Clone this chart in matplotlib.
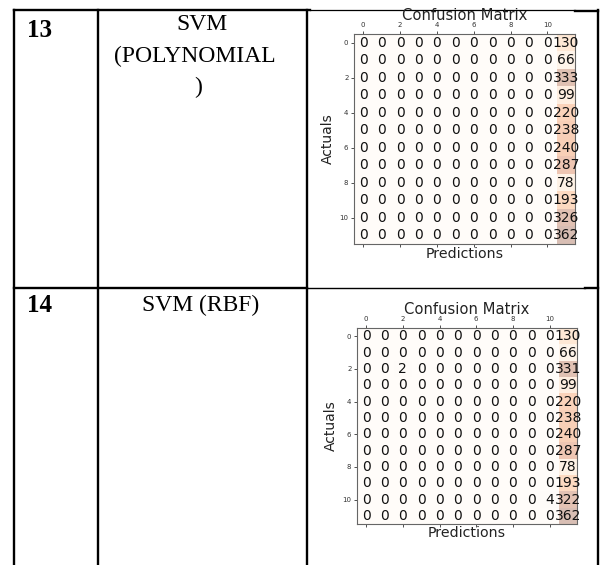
import matplotlib
matplotlib.use('Agg')
import matplotlib.pyplot as plt
import numpy as np

W, H = 601, 565

# per-class counts of the two SVM runs (12 classes, almost all predicted as the last one)
poly_last_col = [130, 66, 333, 99, 220, 238, 240, 287, 78, 193, 326, 362]
rbf_last_col = [130, 66, 331, 99, 220, 238, 240, 287, 78, 193, 322, 362]
rbf_extra = {(2, 2): 2, (10, 10): 4}

row_ids = ['13', '14']
model_lines = [['SVM', '(POLYNOMIAL', ')'], ['SVM (RBF)']]


def build_matrix(last_col, extra=None):
    cm = np.zeros((12, 12), dtype=int)
    cm[:, 11] = last_col
    for (i, j), v in (extra or {}).items():
        cm[i, j] = v
    return cm


def px_rect(x0, y0, x1, y1):
    return [x0 / W, 1 - y1 / H, (x1 - x0) / W, (y1 - y0) / H]


def draw_cm(fig, bg, cm, box, title_y, label_y, ylabel_x):
    x0, y0, x1, y1 = box
    ax = fig.add_axes(px_rect(x0, y0, x1, y1))
    ax.matshow(cm, cmap=plt.cm.Oranges, alpha=0.3, aspect='auto')
    for i in range(cm.shape[0]):
        for j in range(cm.shape[1]):
            ax.text(j, i, str(cm[i, j]), va='center', ha='center',
                    fontsize=10, color='#111111')
    ax.set_xticks(range(0, 12, 2))
    ax.set_yticks(range(0, 12, 2))
    ax.tick_params(labelsize=5, length=2.5, width=0.6, pad=1.5, colors='#333333')
    for s in ax.spines.values():
        s.set_color('#666666')
        s.set_linewidth(0.8)
    cx = (x0 + x1) / 2
    bg.text(cx, title_y, 'Confusion Matrix', ha='center', va='center',
            fontsize=10.6, color='#222222')
    bg.text(cx, label_y, 'Predictions', ha='center', va='center',
            fontsize=10.2, color='#222222')
    bg.text(ylabel_x, (y0 + y1) / 2, 'Actuals', ha='center', va='center',
            rotation=90, fontsize=10, color='#222222')
    return ax


fig = plt.figure(figsize=(W / 100, H / 100), dpi=100)
bg = fig.add_axes([0, 0, 1, 1])
bg.set_xlim(0, W)
bg.set_ylim(H, 0)
bg.axis('off')

# table grid
lw = 1.7
bg.plot([14, 310], [10, 10], color='black', lw=lw)
bg.plot([310, 575], [10, 10], color='black', lw=0.9)
bg.plot([575, 598], [10.5, 10.5], color='black', lw=lw)
bg.plot([14, 307], [288, 288], color='black', lw=lw)
bg.plot([307, 585], [287.5, 287.5], color='black', lw=1.0)
bg.plot([585, 598], [288, 288], color='black', lw=lw)
for x in [14, 98, 307, 597.5]:
    bg.plot([x, x], [10, H], color='black', lw=lw)

serif = 'Liberation Serif'
bg.text(27, 37, row_ids[0], ha='left', va='baseline', fontsize=18,
        fontweight='bold', family=serif)
bg.text(27, 312, row_ids[1], ha='left', va='baseline', fontsize=18,
        fontweight='bold', family=serif)
for (x, y), s in zip([(202, 30), (195, 62), (198, 93)], model_lines[0]):
    bg.text(x, y, s, ha='center', va='baseline', fontsize=17, family=serif)
bg.text(201, 311, model_lines[1][0], ha='center', va='baseline', fontsize=17,
        family=serif)

draw_cm(fig, bg, build_matrix(poly_last_col), (354, 34, 575, 244),
        title_y=15, label_y=254, ylabel_x=328)
draw_cm(fig, bg, build_matrix(rbf_last_col, rbf_extra), (357, 328, 577, 524),
        title_y=309, label_y=533, ylabel_x=331)

fig.savefig('out.png', dpi=100)
